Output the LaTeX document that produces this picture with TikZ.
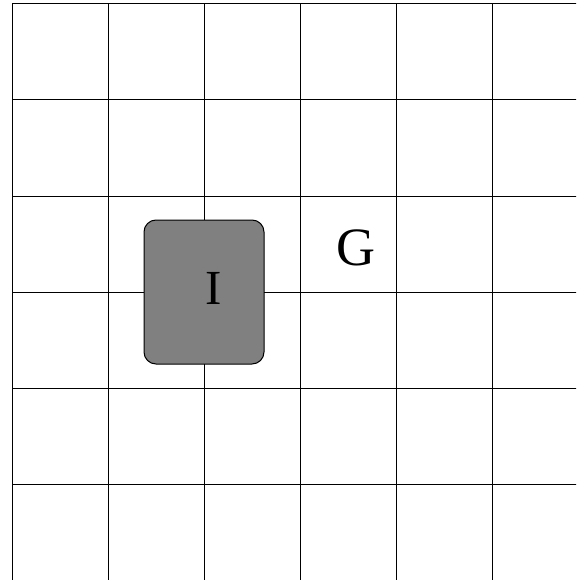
\documentclass[tikz,border=0pt]{standalone}
\usepackage{fontspec}
\setmainfont{Liberation Serif}
\begin{document}
\begin{tikzpicture}[x=1pt,y=-1pt,
  gridline/.style={line width=1pt,black},
  obstacle/.style={draw=black,fill=black!50,line width=1pt,rounded corners=12pt,minimum width=120pt,minimum height=144pt,inner sep=0pt},
  ilab/.style={font=\fontsize{49}{49}\selectfont,inner sep=0pt},
  glab/.style={font=\fontsize{54}{54}\selectfont,inner sep=0pt}]
\useasboundingbox (0,0) rectangle (576,580);
\clip (0,0) rectangle (576,580);
\fill[white] (0,0) rectangle (576,580);
\foreach \x in {12,108,204,300,396,492,588}
  \draw[gridline] (\x,4) -- (\x,600);
\foreach \y in {4,100,196,292,388,484,580}
  \draw[gridline] (12,\y) -- (600,\y);
\node[obstacle] (box) at (204,292) {};
\node[ilab] (ilabel) at (213.3,288.3) {I};
\node[glab] (glabel) at (356.2,247.8) {G};
\end{tikzpicture}
\end{document}
